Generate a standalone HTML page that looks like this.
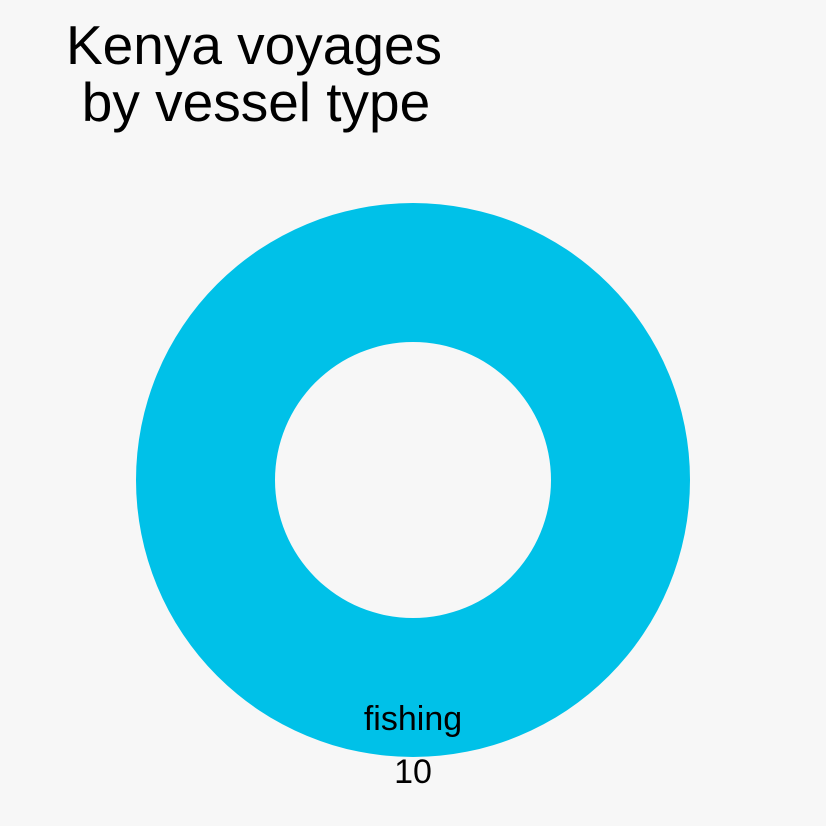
<!DOCTYPE html>
<html><head><meta charset="utf-8"><style>
html,body{margin:0;padding:0;background:#f7f7f7;}
svg{display:block;font-family:"Liberation Sans",Arial,sans-serif;}
</style></head><body>
<svg id="chart" width="826" height="826">
<rect width="826" height="826" fill="#f7f7f7"/>
<text x="254" y="64" font-size="55" text-anchor="middle" fill="#000">Kenya voyages</text>
<text x="256" y="121" font-size="55" text-anchor="middle" fill="#000">by vessel type</text>
<g id="slices"></g>
<g id="labels"></g>
</svg>
<script>
const categories = ["fishing"];
const values = [10];
const colors = ["#00c1e8"];
const cx = 413, cy = 480, R = 277, r = 138;
const total = values.reduce((a,b)=>a+b,0);
const ns = "http://www.w3.org/2000/svg";
const gS = document.getElementById('slices'), gL = document.getElementById('labels');
let a0 = 0;
values.forEach((v,i)=>{
  const frac = v/total;
  const a1 = a0 + frac*2*Math.PI;
  const p = document.createElementNS(ns,'path');
  let d;
  if (frac >= 0.9999) {
    d = `M${cx},${cy-R}A${R},${R} 0 1 1 ${cx},${cy+R}A${R},${R} 0 1 1 ${cx},${cy-R}Z` +
        `M${cx},${cy-r}A${r},${r} 0 1 0 ${cx},${cy+r}A${r},${r} 0 1 0 ${cx},${cy-r}Z`;
  } else {
    const pt=(rad,a)=>[cx+rad*Math.sin(a), cy-rad*Math.cos(a)];
    const [x0,y0]=pt(R,a0),[x1,y1]=pt(R,a1),[x2,y2]=pt(r,a1),[x3,y3]=pt(r,a0);
    const lg = (a1-a0)>Math.PI?1:0;
    d=`M${x0},${y0}A${R},${R} 0 ${lg} 1 ${x1},${y1}L${x2},${y2}A${r},${r} 0 ${lg} 0 ${x3},${y3}Z`;
  }
  p.setAttribute('d', d);
  p.setAttribute('fill', colors[i]);
  p.setAttribute('fill-rule','evenodd');
  
  
  gS.appendChild(p);
  const mid = frac >= 0.9999 ? Math.PI : (a0+a1)/2;
  const lx = cx + (R-30)*Math.sin(mid), ly = cy - (R-30)*Math.cos(mid);
  const t1 = document.createElementNS(ns,'text');
  t1.setAttribute('x', lx); t1.setAttribute('y', ly+3);
  t1.setAttribute('font-size','34'); t1.setAttribute('text-anchor','middle');
  t1.textContent = categories[i];
  
  
  gL.appendChild(t1);
  const t2 = document.createElementNS(ns,'text');
  t2.setAttribute('x', lx); t2.setAttribute('y', ly+56);
  t2.setAttribute('font-size','34'); t2.setAttribute('text-anchor','middle');
  t2.textContent = values[i];
  
  
  gL.appendChild(t2);
  a0 = a1;
});
</script>
</body></html>
